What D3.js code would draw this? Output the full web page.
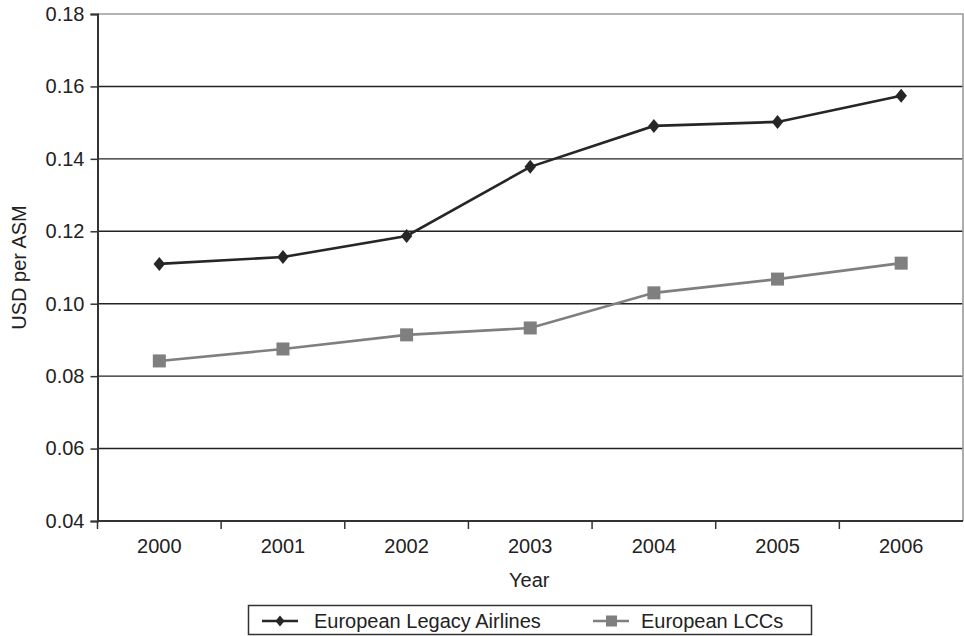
<!DOCTYPE html>
<html>
<head>
<meta charset="utf-8">
<script src="https://cdn.jsdelivr.net/npm/d3@7"></script>
<style>
  html, body { margin: 0; padding: 0; background: #fff; }
  svg { display: block; font-family: "Liberation Sans", Arial, sans-serif; }
</style>
</head>
<body>
<svg id="chart" width="964" height="636"></svg>
<script>
// Unit cost per available seat mile, European carriers
const years = ["2000", "2001", "2002", "2003", "2004", "2005", "2006"];
const legacyAirlines = [0.1110, 0.1129, 0.1187, 0.1378, 0.1491, 0.1502, 0.1574];
const lowCostCarriers = [0.0842, 0.0875, 0.0914, 0.0933, 0.1030, 0.1068, 0.1112];
const yTicks = [0.04, 0.06, 0.08, 0.10, 0.12, 0.14, 0.16, 0.18];
const seriesNames = ["European Legacy Airlines", "European LCCs"];

const svg = d3.select("#chart");
const margin = { left: 97.5, right: 1, top: 14, bottom: 115 };
const W = 964, H = 636;
const plotW = W - margin.left - margin.right;
const plotH = H - margin.top - margin.bottom;
const fontSize = 20;

const x = d3.scaleBand().domain(years).range([margin.left, margin.left + plotW]);
const y = d3.scaleLinear().domain([0.04, 0.18]).range([margin.top + plotH, margin.top]);

// gridlines
svg.append("g")
  .selectAll("line")
  .data(yTicks.filter(t => t > 0.04 && t < 0.18))
  .join("line")
  .attr("x1", margin.left).attr("x2", margin.left + plotW)
  .attr("y1", d => y(d)).attr("y2", d => y(d))
  .attr("stroke", "#222").attr("stroke-width", 1.4);

// top and right plot border
svg.append("path")
  .attr("d", `M${margin.left},${y(0.18)}H${margin.left + plotW}V${y(0.04)}`)
  .attr("fill", "none").attr("stroke", "#9a9a9a").attr("stroke-width", 1.6);

// y axis
const yAxis = svg.append("g")
  .attr("transform", `translate(${margin.left},0)`)
  .call(d3.axisLeft(y).tickValues(yTicks).tickFormat(d3.format(".2f")).tickSize(7).tickPadding(6));
yAxis.select(".domain").attr("stroke", "#333").attr("stroke-width", 2);
yAxis.selectAll(".tick line").attr("stroke", "#333").attr("stroke-width", 1.5);
yAxis.selectAll(".tick text").attr("font-size", fontSize).attr("fill", "#222")
  .attr("font-family", "Liberation Sans, Arial, sans-serif");

// x axis: ticks at category boundaries, labels centred in each band
const xBase = margin.top + plotH;
const xg = svg.append("g");
xg.append("line")
  .attr("x1", margin.left).attr("x2", margin.left + plotW)
  .attr("y1", xBase).attr("y2", xBase)
  .attr("stroke", "#333").attr("stroke-width", 2);
const boundaries = years.map(d => x(d)).concat([margin.left + plotW]);
xg.selectAll("line.tick")
  .data(boundaries.slice(0, -1))
  .join("line").attr("class", "tick")
  .attr("x1", d => d).attr("x2", d => d)
  .attr("y1", xBase).attr("y2", xBase + 8)
  .attr("stroke", "#333").attr("stroke-width", 1.5);
xg.selectAll("text")
  .data(years)
  .join("text")
  .attr("x", d => x(d) + x.bandwidth() / 2)
  .attr("y", xBase + 32)
  .attr("text-anchor", "middle")
  .attr("font-size", fontSize).attr("fill", "#222")
  .text(d => d);

// axis titles
svg.append("text")
  .attr("x", margin.left + plotW / 2 - 1)
  .attr("y", 587)
  .attr("text-anchor", "middle")
  .attr("font-size", fontSize).attr("fill", "#222")
  .text("Year");
svg.append("text")
  .attr("transform", `translate(26,${margin.top + plotH / 2}) rotate(-90)`)
  .attr("text-anchor", "middle")
  .attr("font-size", fontSize).attr("fill", "#222")
  .text("USD per ASM");

const cx = d => x(d) + x.bandwidth() / 2;
const line = d3.line().x(d => cx(d[0])).y(d => y(d[1]));

const legacyPts = years.map((yr, i) => [yr, legacyAirlines[i]]);
const lccPts = years.map((yr, i) => [yr, lowCostCarriers[i]]);

const legacyColor = "#262626";
const lccColor = "#7f7f7f";

// LCC series
svg.append("path").datum(lccPts)
  .attr("d", line).attr("fill", "none")
  .attr("stroke", lccColor).attr("stroke-width", 2.6);
svg.append("g").selectAll("rect").data(lccPts).join("rect")
  .attr("x", d => cx(d[0]) - 6.5).attr("y", d => y(d[1]) - 6.5)
  .attr("width", 13).attr("height", 13)
  .attr("fill", lccColor);

// Legacy series
svg.append("path").datum(legacyPts)
  .attr("d", line).attr("fill", "none")
  .attr("stroke", legacyColor).attr("stroke-width", 2.6);
const diamond = (s) => `M0,${-s}L${s * 0.82},0L0,${s}L${-s * 0.82},0Z`;
svg.append("g").selectAll("path").data(legacyPts).join("path")
  .attr("transform", d => `translate(${cx(d[0])},${y(d[1])})`)
  .attr("d", diamond(7))
  .attr("fill", legacyColor);

// legend
const lg = svg.append("g");
lg.append("rect")
  .attr("x", 248.5).attr("y", 605.5).attr("width", 563).attr("height", 29)
  .attr("fill", "#fff").attr("stroke", "#333").attr("stroke-width", 1.5);
const ly = 621;
lg.append("line").attr("x1", 262).attr("x2", 298).attr("y1", ly).attr("y2", ly)
  .attr("stroke", legacyColor).attr("stroke-width", 2.6);
lg.append("path").attr("transform", `translate(280,${ly})`).attr("d", diamond(5.5))
  .attr("fill", legacyColor);
lg.append("text").attr("x", 314).attr("y", ly + 7)
  .attr("font-size", fontSize).attr("fill", "#222").text(seriesNames[0]);
lg.append("line").attr("x1", 593).attr("x2", 629).attr("y1", ly).attr("y2", ly)
  .attr("stroke", lccColor).attr("stroke-width", 2.6);
lg.append("rect").attr("x", 606).attr("y", ly - 5.5).attr("width", 11).attr("height", 11)
  .attr("fill", lccColor);
lg.append("text").attr("x", 641).attr("y", ly + 7)
  .attr("font-size", fontSize).attr("fill", "#222").text(seriesNames[1]);
</script>
</body>
</html>
